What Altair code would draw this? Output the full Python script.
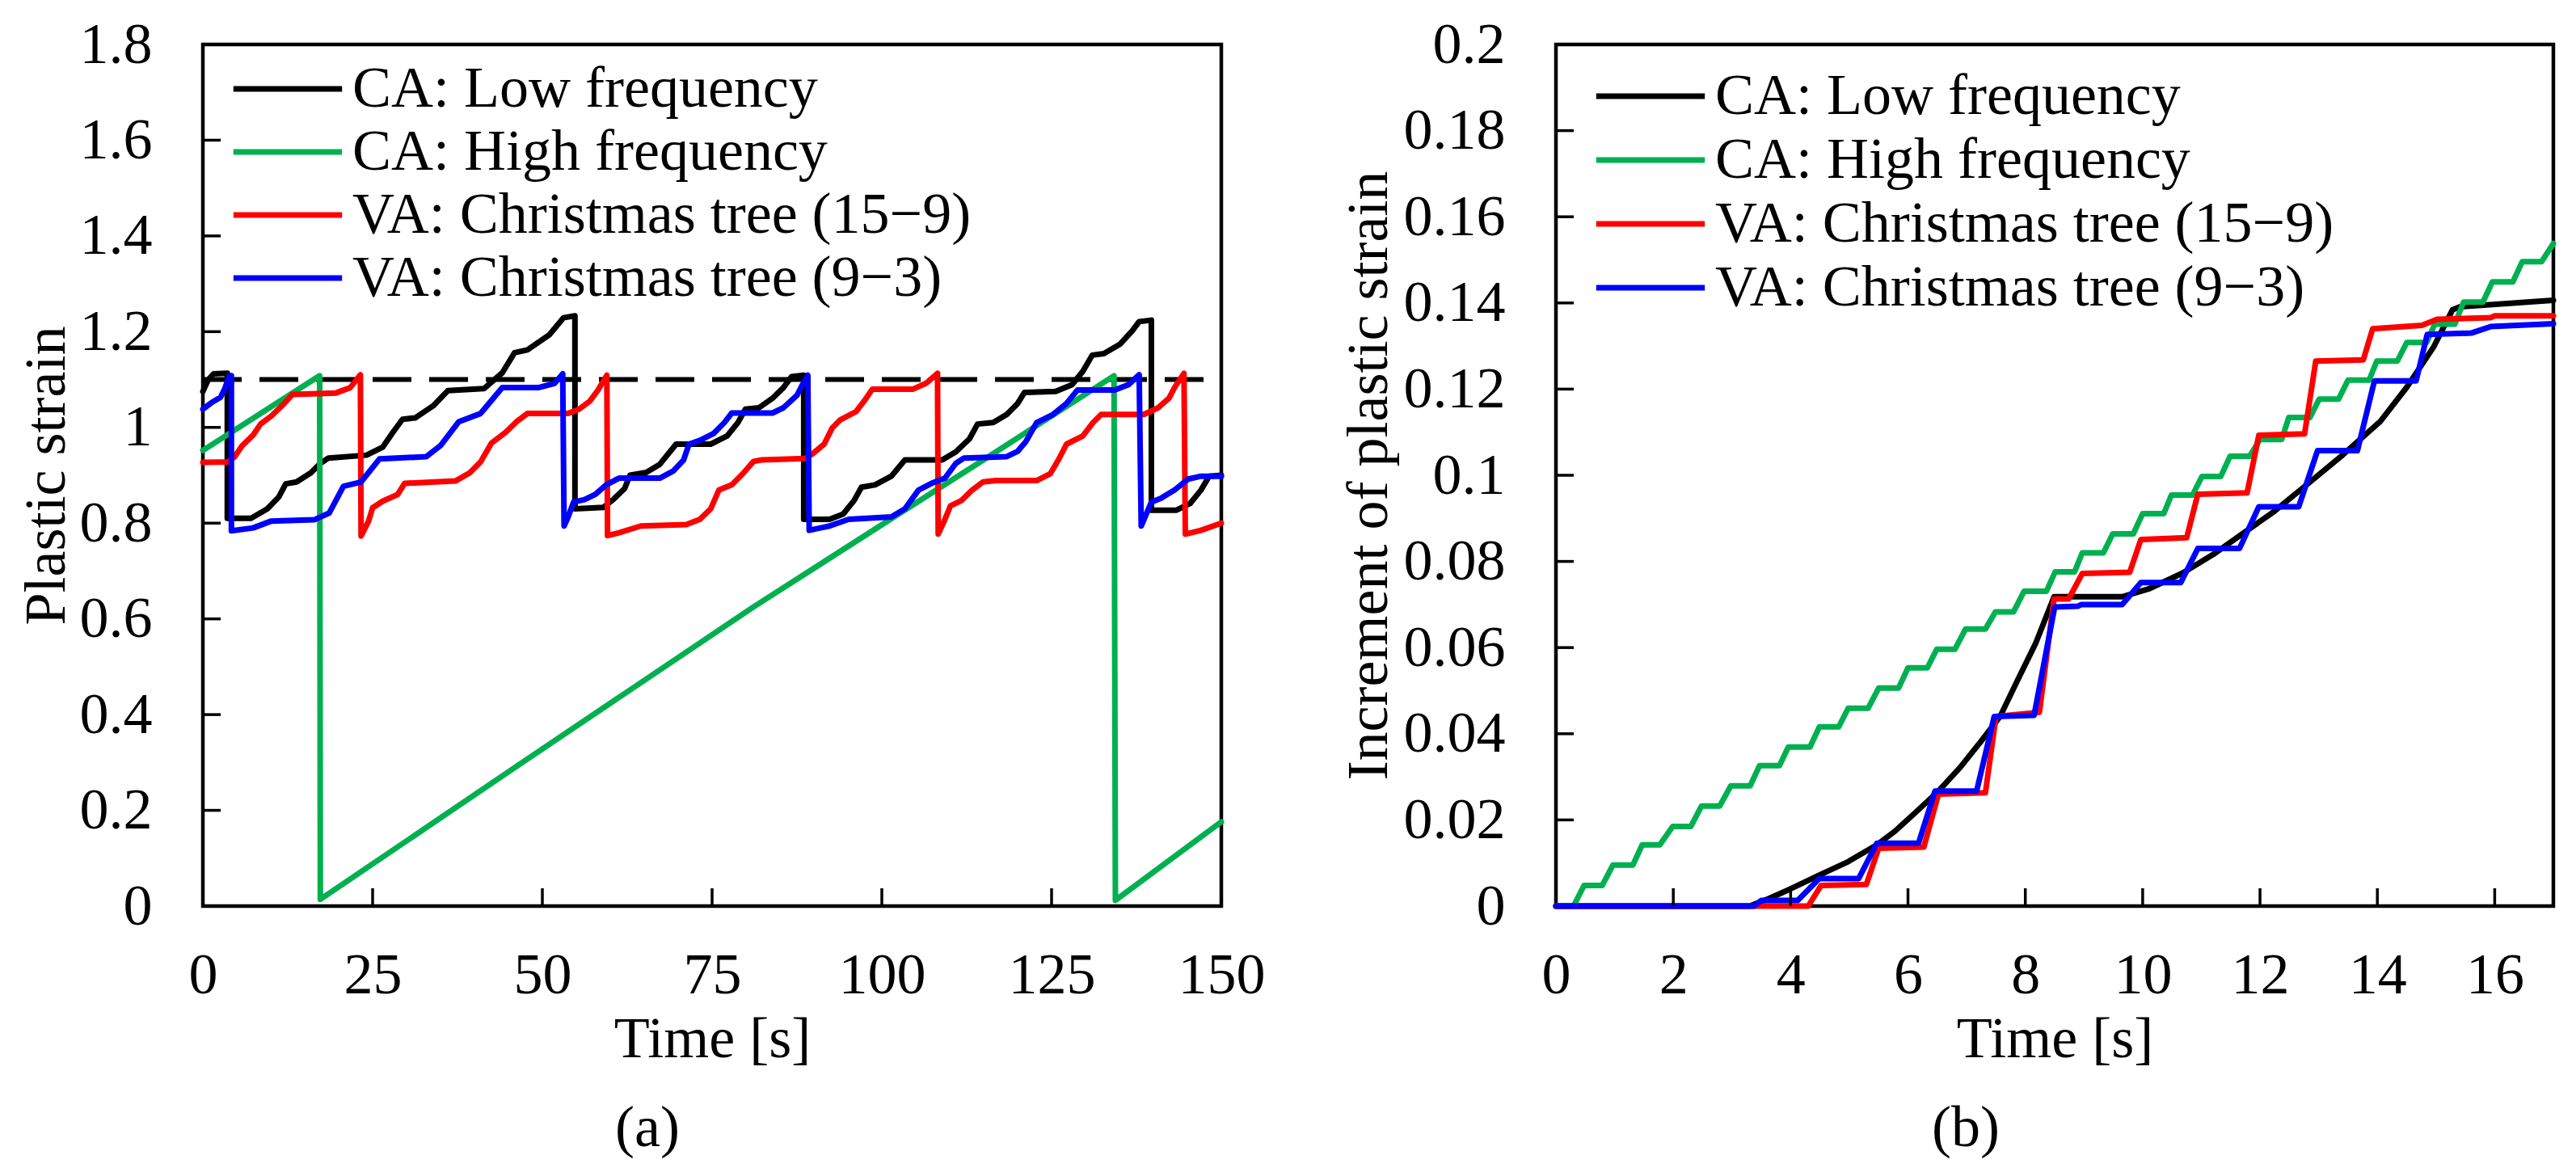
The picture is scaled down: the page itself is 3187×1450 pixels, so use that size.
import altair as alt
import pandas as pd

FONT = "Liberation Serif"
FS = 72
SERIES = ["CA: Low frequency", "CA: High frequency",
          "VA: Christmas tree (15−9)", "VA: Christmas tree (9−3)"]
COLORS = ["#000000", "#00B050", "#FF0000", "#0000FF"]

# ---------------- panel (a): plastic strain vs time ----------------
a_low_t = [0, 0.8, 1.6, 3.6, 3.6, 7.1, 9.5, 11.2, 12.2, 13.8,
           15.9, 17.3, 18.5, 24.1, 26.5, 28.0, 29.4, 31.3, 34.0, 36.1,
           41.4, 44.1, 45.9, 47.8, 51.0, 53.1, 54.8, 54.8, 59.0, 60.5,
           62.1, 62.9, 65.3, 67.3, 68.9, 69.7, 74.8, 77.2, 78.8, 79.9,
           81.9, 83.9, 85.5, 86.7, 88.5, 88.5, 92.3, 94.3, 95.9, 97.0,
           99.0, 101.4, 103.4, 108.9, 110.9, 112.9, 114.1, 116.4, 118.4, 120.0,
           121.0, 125.6, 128.0, 129.6, 131.0, 132.7, 135.1, 136.9, 137.9, 139.7,
           139.7, 143.4, 145.4, 147.0, 148.2, 150]
a_low_v = [1.075, 1.100, 1.112, 1.113, 0.810, 0.810, 0.830, 0.855, 0.882, 0.886,
           0.905, 0.925, 0.936, 0.942, 0.959, 0.990, 1.017, 1.020, 1.046, 1.077,
           1.081, 1.114, 1.156, 1.162, 1.193, 1.229, 1.233, 0.830, 0.833, 0.850,
           0.872, 0.900, 0.906, 0.923, 0.951, 0.965, 0.965, 0.982, 1.010, 1.038,
           1.041, 1.061, 1.083, 1.106, 1.109, 0.808, 0.808, 0.819, 0.847, 0.875,
           0.880, 0.898, 0.932, 0.932, 0.949, 0.976, 1.007, 1.010, 1.027, 1.050,
           1.073, 1.075, 1.089, 1.117, 1.151, 1.154, 1.174, 1.202, 1.221, 1.224,
           0.827, 0.827, 0.841, 0.869, 0.898, 0.900]

a_high_t = [0, 17.2, 17.3, 46.2, 81.1, 100.6, 115.3, 134.2, 134.4, 150]
a_high_v = [0.952, 1.108, 0.014, 0.292, 0.625, 0.802, 0.935, 1.108, 0.012, 0.176]

a_ct159_t = [0, 3.7, 4.7, 5.8, 7.4, 8.5, 10.1, 11.7, 13.2, 19.6,
             21.7, 22.8, 23.2, 23.3, 24.4, 25.0, 26.5, 28.7, 29.7, 37.2,
             39.3, 40.9, 42.5, 44.6, 46.2, 47.8, 53.8, 55.4, 57.0, 58.2,
             59.5, 59.6, 61.3, 64.5, 71.2, 73.2, 74.8, 76.0, 77.9, 79.5,
             81.1, 82.3, 88.7, 89.9, 91.5, 92.7, 93.9, 96.2, 97.4, 98.6,
             104.6, 106.5, 108.2, 108.3, 109.3, 110.1, 111.7, 113.3, 114.9, 116.8,
             122.8, 124.8, 126.0, 127.2, 129.6, 131.1, 132.3, 138.6, 140.7, 142.3,
             143.1, 144.5, 144.7, 147.0, 150]
a_ct159_v = [0.927, 0.928, 0.939, 0.962, 0.984, 1.007, 1.024, 1.046, 1.069, 1.072,
             1.083, 1.103, 1.110, 0.773, 0.804, 0.832, 0.846, 0.860, 0.883, 0.888,
             0.905, 0.928, 0.967, 0.990, 1.012, 1.029, 1.029, 1.038, 1.055, 1.078,
             1.109, 0.774, 0.780, 0.794, 0.797, 0.808, 0.830, 0.869, 0.880, 0.903,
             0.929, 0.932, 0.935, 0.946, 0.965, 0.999, 1.016, 1.033, 1.055, 1.080,
             1.080, 1.092, 1.113, 0.777, 0.808, 0.836, 0.847, 0.869, 0.886, 0.889,
             0.889, 0.903, 0.932, 0.965, 0.982, 1.010, 1.027, 1.027, 1.041, 1.061,
             1.083, 1.113, 0.777, 0.785, 0.800]

a_ct93_t = [0, 1.3, 2.6, 3.2, 3.9, 4.2, 4.2, 7.4, 10.0, 16.4,
            18.6, 20.7, 23.3, 26.0, 32.9, 35.0, 37.7, 40.9, 44.1, 49.4,
            51.8, 53.0, 53.2, 53.8, 54.6, 56.2, 57.8, 59.4, 61.3, 67.3,
            69.3, 70.8, 71.6, 73.2, 75.2, 76.8, 77.9, 83.9, 85.5, 87.5,
            88.3, 89.1, 89.3, 92.3, 95.1, 101.4, 103.4, 105.4, 107.3, 109.3,
            110.9, 112.1, 118.4, 120.0, 121.2, 122.8, 125.2, 127.2, 128.8, 134.3,
            136.3, 137.9, 138.2, 139.7, 141.1, 143.1, 145.1, 147.0, 150]
a_ct93_v = [1.038, 1.052, 1.063, 1.080, 1.108, 1.108, 0.784, 0.790, 0.804, 0.807,
            0.821, 0.877, 0.886, 0.934, 0.939, 0.962, 1.012, 1.029, 1.083, 1.083,
            1.092, 1.112, 0.794, 0.813, 0.844, 0.849, 0.860, 0.880, 0.894, 0.894,
            0.909, 0.932, 0.965, 0.973, 0.987, 1.010, 1.030, 1.030, 1.041, 1.067,
            1.089, 1.109, 0.785, 0.794, 0.808, 0.813, 0.830, 0.869, 0.883, 0.894,
            0.925, 0.936, 0.939, 0.950, 0.970, 1.010, 1.027, 1.050, 1.078, 1.078,
            1.089, 1.110, 0.794, 0.844, 0.852, 0.869, 0.892, 0.898, 0.898]

a_limit_t = [0]
a_limit_t2 = [150]
a_limit_v = [1.1]

a_xlabels = [0, 25, 50, 75, 100, 125, 150]
a_ylabels = [0, 0.2, 0.4, 0.6, 0.8, 1, 1.2, 1.4, 1.6, 1.8]
a_xticks = [25, 50, 75, 100, 125]
a_yticks = [0.2, 0.4, 0.6, 0.8, 1, 1.2, 1.4, 1.6]

# ---------------- panel (b): increment of plastic strain ----------------
b_low_t = [0, 3.3, 3.62, 4.0, 4.49, 4.98, 5.47, 5.78, 6.15, 6.52,
           6.89, 7.26, 7.57, 7.87, 8.18, 8.49, 9.65, 10.1, 10.68, 11.2,
           11.72, 12.24, 12.76, 13.4, 14.05, 14.5, 14.96, 15.28, 15.41, 17]
b_low_v = [0, 0, 0.0017, 0.004, 0.0072, 0.0103, 0.0142, 0.0174, 0.022, 0.0267,
           0.0322, 0.0385, 0.044, 0.0525, 0.0611, 0.0718, 0.0718, 0.0736, 0.0773, 0.0816,
           0.0866, 0.0916, 0.0974, 0.1046, 0.1125, 0.1204, 0.1298, 0.1384, 0.1391, 0.1406]

b_high_t = [0, 0.30, 0.48, 0.79, 0.97, 1.31, 1.47, 1.77, 1.99, 2.30,
            2.48, 2.79, 2.98, 3.31, 3.47, 3.81, 3.96, 4.33, 4.49, 4.82,
            4.98, 5.32, 5.50, 5.84, 6.00, 6.33, 6.49, 6.80, 6.98, 7.32,
            7.49, 7.80, 7.98, 8.36, 8.51, 8.84, 8.97, 9.33, 9.49, 9.84,
            10.00, 10.36, 10.49, 10.85, 11.01, 11.33, 11.49, 11.82, 12.00, 12.37,
            12.49, 12.85, 13.01, 13.34, 13.50, 13.86, 13.99, 14.34, 14.50, 14.84,
            14.98, 15.32, 15.47, 15.80, 15.96, 16.31, 16.47, 16.80, 17.00]
b_high_v = [0, 0, 0.0048, 0.0048, 0.0095, 0.0095, 0.0142, 0.0142, 0.0185, 0.0185,
            0.0232, 0.0232, 0.0279, 0.0279, 0.0326, 0.0326, 0.0369, 0.0369, 0.0416, 0.0416,
            0.0459, 0.0459, 0.0506, 0.0506, 0.0553, 0.0553, 0.0596, 0.0596, 0.0643, 0.0643,
            0.0683, 0.0683, 0.0731, 0.0731, 0.0776, 0.0776, 0.0820, 0.0820, 0.0864, 0.0864,
            0.0911, 0.0911, 0.0954, 0.0954, 0.0997, 0.0997, 0.1044, 0.1044, 0.1083, 0.1083,
            0.1134, 0.1134, 0.1177, 0.1177, 0.1221, 0.1221, 0.1265, 0.1265, 0.1308, 0.1308,
            0.1351, 0.1351, 0.1402, 0.1402, 0.1449, 0.1449, 0.1496, 0.1496, 0.1538]

b_ct159_t = [0, 4.3, 4.52, 5.29, 5.5, 6.27, 6.52, 7.32, 7.5, 8.24,
             8.49, 8.74, 8.97, 9.78, 9.97, 10.75, 10.94, 11.78, 11.98, 12.76,
             12.95, 13.76, 13.92, 14.76, 15.02, 15.93, 16.0, 17]
b_ct159_v = [0, 0, 0.0048, 0.0050, 0.0134, 0.0137, 0.026, 0.0263, 0.044, 0.045,
             0.0713, 0.0713, 0.0772, 0.0775, 0.0851, 0.0855, 0.0956, 0.0959, 0.1093, 0.1096,
             0.1265, 0.1268, 0.134, 0.1348, 0.1362, 0.1366, 0.1370, 0.1370]

b_ct93_t = [0, 3.38, 3.5, 4.12, 4.49, 5.16, 5.47, 6.18, 6.46, 7.17,
            7.47, 8.15, 8.5, 8.9, 8.95, 9.65, 9.97, 10.65, 10.94, 11.65,
            11.98, 12.66, 12.98, 13.66, 13.95, 14.66, 14.85, 15.6, 15.93, 17]
b_ct93_v = [0, 0, 0.0013, 0.0013, 0.0064, 0.0064, 0.0146, 0.0146, 0.0267, 0.0267,
            0.044, 0.0443, 0.0694, 0.0696, 0.0700, 0.0700, 0.0751, 0.0751, 0.083, 0.083,
            0.0927, 0.0927, 0.1057, 0.1057, 0.1219, 0.1219, 0.1327, 0.133, 0.1345, 0.1352]

b_xlabels = [0, 2, 4, 6, 8, 10, 12, 14, 16]
b_ylabels = [0, 0.02, 0.04, 0.06, 0.08, 0.1, 0.12, 0.14, 0.16, 0.18, 0.2]
b_xticks = [2, 4, 6, 8, 10, 12, 14, 16]
b_yticks = [0.02, 0.04, 0.06, 0.08, 0.1, 0.12, 0.14, 0.16, 0.18]

LW = 7  # data line width


def series_frame(ts_list, vs_list):
    frames = []
    for name, ts, vs in zip(SERIES, ts_list, vs_list):
        assert len(ts) == len(vs), name
        frames.append(pd.DataFrame({"t": ts, "v": vs, "s": name,
                                    "i": list(range(len(ts)))}))
    return frames


def panel(frames, xdom, xlabels, ydom, ylabels, xticks, yticks, ytitle,
          width, height, legend_x, legend_y, row_pad, ytitle_pad,
          caption, caption_dx, extra=None):
    common = dict(labelFont=FONT, labelFontSize=FS, labelColor="black",
                  titleFont=FONT, titleFontSize=FS, titleColor="black",
                  titleFontWeight="normal", ticks=False, tickSize=0,
                  domain=False, grid=False, labelOverlap=False, labelFlush=False,
                  labelLimit=1000, format=".6~g")
    x_axis = alt.Axis(values=xlabels, title="Time [s]",
                      labelPadding=50, titlePadding=8, **common)
    y_axis = alt.Axis(values=ylabels, title=ytitle,
                      labelPadding=63, titlePadding=ytitle_pad, **common)
    X = alt.X("t:Q", scale=alt.Scale(domain=xdom, nice=False, zero=False), axis=x_axis)
    Y = alt.Y("v:Q", scale=alt.Scale(domain=ydom, nice=False, zero=False), axis=y_axis)
    legend = alt.Legend(title=None, orient="none", legendX=legend_x, legendY=legend_y,
                        direction="vertical", symbolType="M-2.1,0H2.1",
                        symbolSize=4096, symbolStrokeWidth=7,
                        labelFont=FONT, labelFontSize=FS, labelColor="black",
                        labelOffset=44, labelLimit=3000, rowPadding=row_pad,
                        padding=0, offset=0)
    color = alt.Color("s:N", scale=alt.Scale(domain=SERIES, range=COLORS), legend=legend)
    layers = []
    if extra is not None:
        layers.append(alt.Chart(extra).mark_rule(color="black", strokeWidth=6,
                                                 strokeDash=[48, 22]).encode(
            x=X, x2="t2:Q", y=Y))
    for df in frames:
        layers.append(alt.Chart(df).mark_line(strokeWidth=LW, strokeJoin="round",
                                              strokeCap="round").encode(
            x=X, y=Y, color=color, order="i:Q"))
    layers.append(alt.Chart(pd.DataFrame({"v": yticks})).mark_rule(
        color="black", strokeWidth=3.5).encode(y=Y, x=alt.value(0), x2=alt.value(22)))
    layers.append(alt.Chart(pd.DataFrame({"t": xticks})).mark_rule(
        color="black", strokeWidth=3.5).encode(x=X, y=alt.value(height),
                                               y2=alt.value(height - 22)))
    return alt.layer(*layers).properties(
        width=width, height=height,
        title=alt.TitleParams(caption, orient="bottom", anchor="middle",
                              font=FONT, fontSize=FS, fontWeight="normal",
                              color="black", offset=40, dx=caption_dx))


frames_a = series_frame([a_low_t, a_high_t, a_ct159_t, a_ct93_t],
                        [a_low_v, a_high_v, a_ct159_v, a_ct93_v])
frames_b = series_frame([b_low_t, b_high_t, b_ct159_t, b_ct93_t],
                        [b_low_v, b_high_v, b_ct159_v, b_ct93_v])
limit_df = pd.DataFrame({"t": a_limit_t, "t2": a_limit_t2, "v": a_limit_v})

pa = panel(frames_a, [0, 150], a_xlabels, [0, 1.8], a_ylabels, a_xticks, a_yticks,
           "Plastic strain", 1260, 1066, 69, 19, 6, 4, "(a)", -80, extra=limit_df)
pb = panel(frames_b, [0, 17], b_xlabels, [0, 0.2], b_ylabels, b_xticks, b_yticks,
           "Increment of plastic strain", 1234, 1066, 81, 28, 7, 6, "(b)", -110)

chart = alt.hconcat(pa, pb, spacing=86).resolve_scale(color="independent").properties(
    padding={"left": 10, "top": 8, "right": 5, "bottom": 5},
    background="white",
).configure_view(stroke="black", strokeWidth=4.5)

chart.save("out.html", embed_options={"renderer": "svg", "actions": False})
